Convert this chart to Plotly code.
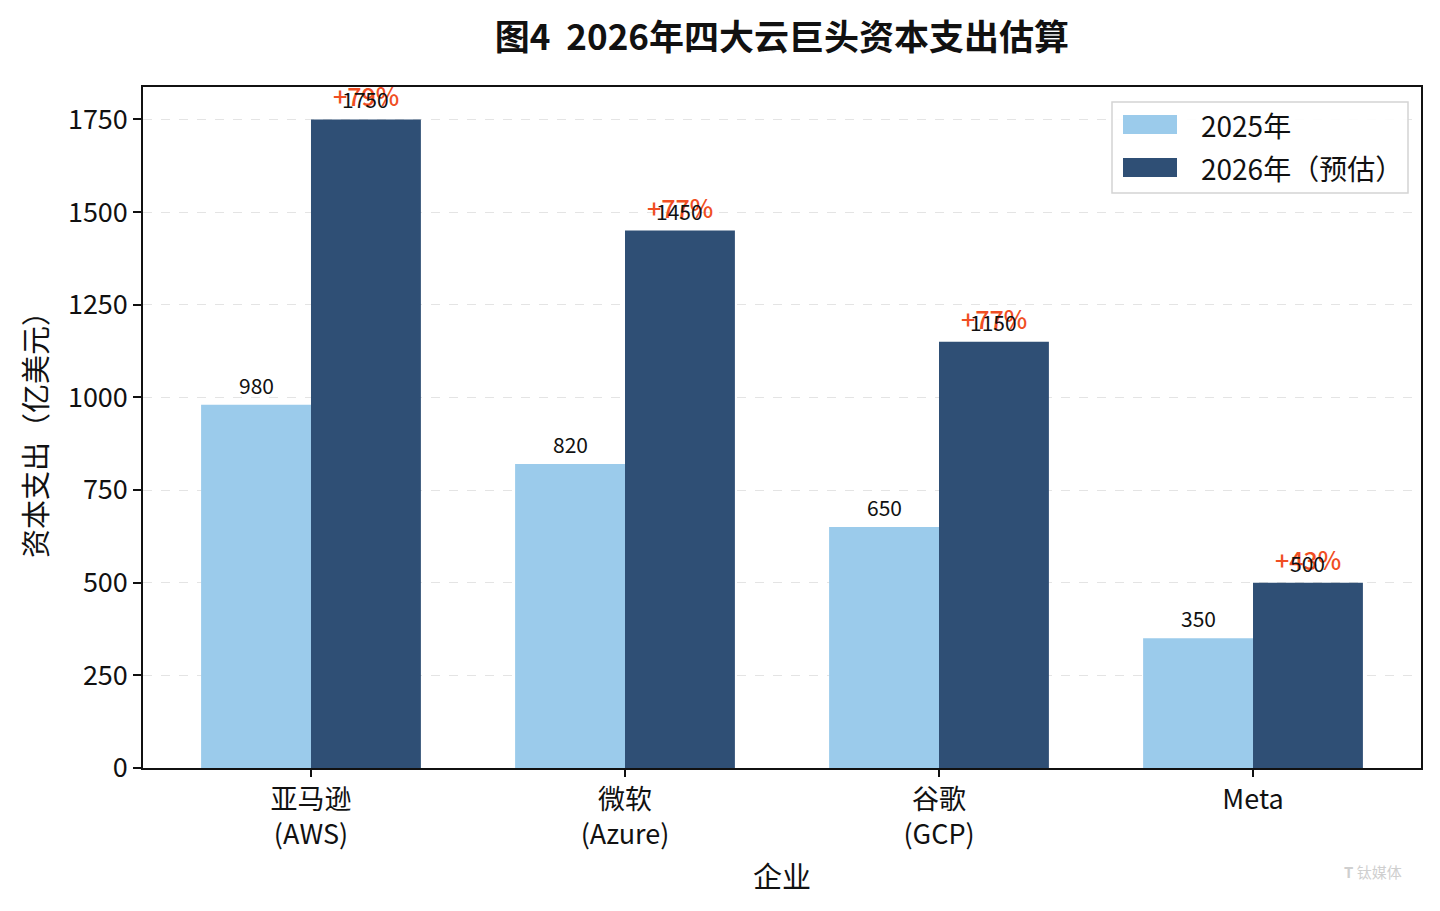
import plotly.graph_objects as go

categories = ["亚马逊<br>(AWS)", "微软<br>(Azure)", "谷歌<br>(GCP)", "Meta"]
capex_2025 = [980, 820, 650, 350]
capex_2026 = [1750, 1450, 1150, 500]
growth_labels = ["+79%", "+77%", "+77%", "+43%"]
y_ticks = [0, 250, 500, 750, 1000, 1250, 1500, 1750]
series_names = ["2025年", "2026年（预估）"]

FONT = "Noto Sans CJK SC"
C_LIGHT = "#9BCBEB"
C_DARK = "#2F4F75"
C_RED = "#F04E23"

W, H = 1440, 911
ML, MR, MT, MB = 143, 19, 87, 143
PW, PH = W - ML - MR, H - MT - MB


def px(xp):
    return (xp - ML) / PW


def py(yp):
    return (H - MB - yp) / PH


fig = go.Figure()
fig.add_trace(go.Bar(x=list(range(4)), y=capex_2025, name=series_names[0], marker_color=C_LIGHT,
                     marker_line_width=0, showlegend=False))
fig.add_trace(go.Bar(x=list(range(4)), y=capex_2026, name=series_names[1], marker_color=C_DARK,
                     marker_line_width=0, showlegend=False))

annotations = []
for i in range(4):
    annotations.append(dict(x=i - 0.175, y=capex_2025[i], text=str(capex_2025[i]), showarrow=False,
                            xref="x", yref="y", yanchor="middle", yshift=20,
                            font=dict(family=FONT, size=21, color="#111")))
    annotations.append(dict(x=i + 0.175, y=capex_2026[i], text=growth_labels[i], showarrow=False,
                            xref="x", yref="y", yanchor="middle", yshift=24,
                            font=dict(family=FONT, size=25, color=C_RED, weight=500)))
    annotations.append(dict(x=i + 0.175, y=capex_2026[i], text=str(capex_2026[i]), showarrow=False,
                            xref="x", yref="y", yanchor="middle", yshift=20,
                            font=dict(family=FONT, size=21, color="#111")))

# manual legend (wide patches like the reference)
shapes = [
    dict(type="rect", xref="paper", yref="paper", x0=px(1112), x1=px(1408), y0=py(193), y1=py(102),
         line=dict(color="#d4d4d4", width=1.5), fillcolor="rgba(255,255,255,0.9)", layer="above"),
    dict(type="rect", xref="paper", yref="paper", x0=px(1123), x1=px(1177), y0=py(134), y1=py(115),
         line=dict(width=0), fillcolor=C_LIGHT, layer="above"),
    dict(type="rect", xref="paper", yref="paper", x0=px(1123), x1=px(1177), y0=py(177), y1=py(158),
         line=dict(width=0), fillcolor=C_DARK, layer="above"),
]
for name, ypix in zip(series_names, [125, 168]):
    annotations.append(dict(x=px(1199), y=py(ypix), xref="paper", yref="paper", xanchor="left",
                            yanchor="middle", text=name, showarrow=False,
                            font=dict(family=FONT, size=28, color="#111")))

annotations.append(dict(x=px(1404), y=py(871), xref="paper", yref="paper", xanchor="right",
                        yanchor="middle", text="<b>T</b> 钛媒体", showarrow=False,
                        font=dict(family=FONT, size=15, color="#cfcfcf")))

fig.update_layout(
    width=W, height=H,
    margin=dict(l=ML, r=MR, t=MT, b=MB),
    paper_bgcolor="white", plot_bgcolor="white",
    barmode="group", bargap=0.3, bargroupgap=0,
    font=dict(family=FONT, color="#111"),
    title=dict(text="<b>图4&nbsp;&nbsp;2026年四大云巨头资本支出估算</b>", x=0.543, xanchor="center",
               y=0.959, yanchor="middle", font=dict(family=FONT, size=35, color="#111")),
    showlegend=False,
    annotations=annotations,
    shapes=shapes,
)
fig.update_xaxes(
    range=[-0.535, 3.535], tickmode="array", tickvals=list(range(4)), ticktext=categories,
    ticks="outside", ticklen=7, tickwidth=1.5, tickcolor="#111",
    showline=True, linecolor="#111", linewidth=1.5, mirror=True, showgrid=False,
    tickfont=dict(family=FONT, size=27, color="#111"),
    title=dict(text="企业", font=dict(family=FONT, size=29, color="#111"), standoff=16),
)
fig.update_yaxes(
    range=[0, 1837.5], tickmode="array", tickvals=y_ticks,
    ticks="outside", ticklen=8, tickwidth=1.5, tickcolor="#111",
    showline=True, linecolor="#111", linewidth=1.5, mirror=True,
    showgrid=True, gridcolor="#e4e4e4", griddash="dash", gridwidth=1, zeroline=False,
    tickfont=dict(family=FONT, size=27, color="#111"),
    title=dict(text="资本支出（亿美元）", font=dict(family=FONT, size=29, color="#111"), standoff=12),
)

fig.write_html("out.html")
